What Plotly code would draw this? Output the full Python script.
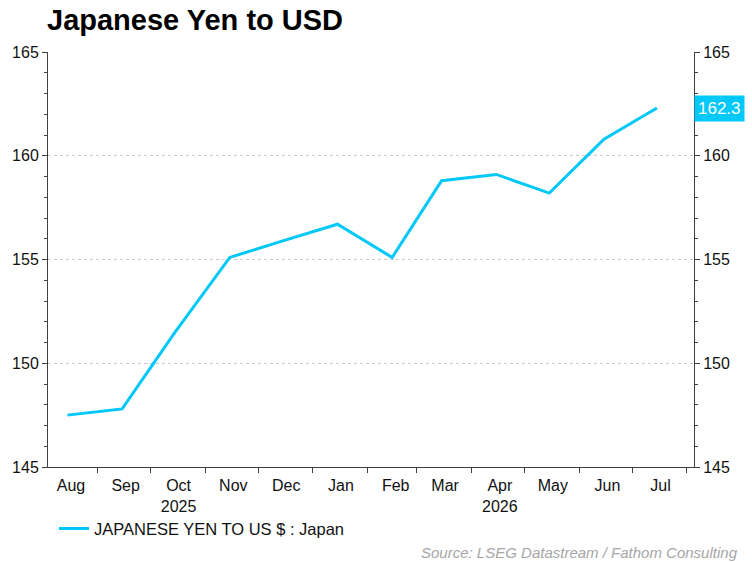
import plotly.graph_objects as go

# ---- data ----
dates = ["2025-08-15", "2025-09-15", "2025-10-15", "2025-11-15", "2025-12-15",
         "2026-01-15", "2026-02-15", "2026-03-15", "2026-04-15", "2026-05-15",
         "2026-06-15", "2026-07-15"]
yen_per_usd = [147.5, 147.8, 151.5, 155.1, 155.9, 156.7, 155.1, 158.8, 159.1, 158.2, 160.8, 162.3]

month_starts = ["2025-09-01", "2025-10-01", "2025-11-01", "2025-12-01", "2026-01-01",
                "2026-02-01", "2026-03-01", "2026-04-01", "2026-05-01", "2026-06-01",
                "2026-07-01", "2026-08-01"]
label_dates = ["2025-08-17", "2025-09-17", "2025-10-17", "2025-11-17", "2025-12-17",
               "2026-01-17", "2026-02-17", "2026-03-17", "2026-04-17", "2026-05-17",
               "2026-06-17", "2026-07-17"]
month_labels = ["Aug", "Sep", "Oct<br>2025", "Nov", "Dec", "Jan", "Feb", "Mar",
                "Apr<br>2026", "May", "Jun", "Jul"]
x_range = ["2025-08-04", "2026-08-05"]
y_range = [145, 165]

series_name = "JAPANESE YEN TO US $ : Japan"
title_text = "Japanese Yen to USD"
source_text = "Source: LSEG Datastream / Fathom Consulting"

CYAN = "#00C8F8"
AXIS = "#404040"
FONT = "Liberation Sans, Arial, sans-serif"

fig = go.Figure()
fig.add_trace(go.Scatter(x=dates, y=yen_per_usd, mode="lines", name=series_name,
                         line=dict(color=CYAN, width=3)))

fig.update_layout(
    width=752, height=562,
    margin=dict(l=43, r=58, t=52, b=95),
    paper_bgcolor="white", plot_bgcolor="white",
    font=dict(family=FONT, size=16, color="#111111"),
    title=dict(text="<b>" + title_text + "</b>", font=dict(size=29, color="black", family=FONT),
               xref="container", x=47 / 752, xanchor="left",
               yref="container", y=1 - 20 / 562, yanchor="middle"),
    showlegend=True,
    legend=dict(orientation="h", x=6 / 651, xanchor="left", y=-0.149, yanchor="middle",
                font=dict(size=16.5, color="#111111"), bgcolor="rgba(0,0,0,0)"),
    xaxis=dict(type="date", range=x_range, tickmode="array", tickvals=label_dates,
               ticktext=month_labels, ticks="", showgrid=False, zeroline=False,
               showline=True, linecolor=AXIS, linewidth=1, ticklabelstandoff=4,
               minor=dict(tickmode="array", tickvals=month_starts, ticks="outside",
                          ticklen=5, tickcolor=AXIS, showgrid=False),
               tickfont=dict(size=16)),
    yaxis=dict(range=y_range, tickmode="linear", tick0=145, dtick=5, ticks="outside",
               ticklen=5, tickcolor=AXIS, showline=True, linecolor=AXIS, linewidth=1,
               showgrid=True, gridcolor="#C8C8C8", griddash="dot", gridwidth=1,
               zeroline=False, minor=dict(dtick=1, ticks="outside", ticklen=3,
                                          tickcolor=AXIS, showgrid=False),
               tickfont=dict(size=16)),
    yaxis2=dict(range=y_range, overlaying="y", side="right", matches="y",
                tickmode="linear", tick0=145, dtick=5, ticks="outside",
                ticklen=5, tickcolor=AXIS, showline=True, linecolor=AXIS, linewidth=1,
                showgrid=False, zeroline=False,
                minor=dict(dtick=1, ticks="outside", ticklen=3, tickcolor=AXIS, showgrid=False),
                tickfont=dict(size=16)),
)

fig.add_trace(go.Scatter(x=[dates[-1]], y=[yen_per_usd[-1]], yaxis="y2", mode="markers",
                         marker=dict(opacity=0), showlegend=False, hoverinfo="skip"))

fig.add_annotation(xref="paper", x=1, xanchor="left", yref="y", y=yen_per_usd[-1],
                   yanchor="middle", text=f"{yen_per_usd[-1]:.1f}", showarrow=False,
                   bgcolor=CYAN, font=dict(size=17, color="white", family=FONT),
                   borderpad=3)

fig.add_annotation(xref="paper", x=(740 - 43) / 651, xanchor="right",
                   yref="paper", y=(467 - 552) / 415, yanchor="middle",
                   text="<i>" + source_text + "</i>", showarrow=False,
                   font=dict(size=15, color="#A6A6A6", family=FONT))

fig.write_html("out.html", config={"displayModeBar": False},
               post_script="document.body.style.margin='0';document.body.style.padding='0';")
